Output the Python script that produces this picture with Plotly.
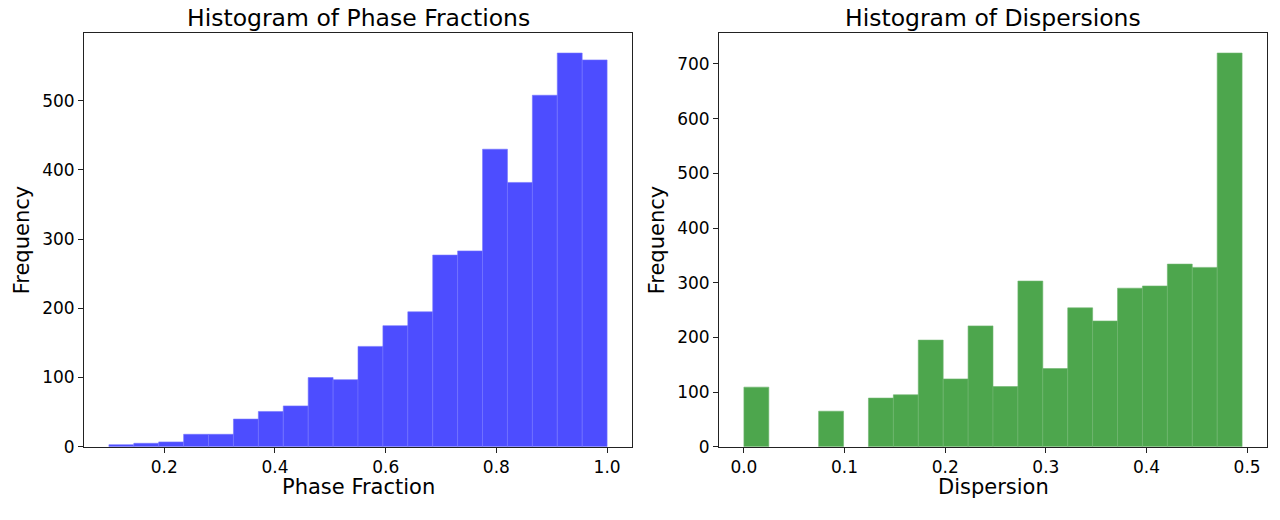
import plotly.graph_objects as go

# Phase fraction histogram (20 bins between 0.1 and 1.0)
phase_min, phase_max = 0.1, 1.0
phase_counts = [3, 5, 7, 18, 18, 40, 51, 59, 100, 97, 145, 175, 195, 277, 283, 430, 382, 508, 569, 559]

# Dispersion histogram (20 bins between 0.0 and 0.495)
disp_min, disp_max = 0.0, 0.495
disp_counts = [109, 0, 0, 65, 0, 89, 95, 195, 124, 221, 110, 303, 143, 254, 230, 290, 294, 334, 328, 720]

phase_ticks = [0.2, 0.4, 0.6, 0.8, 1.0]
phase_ticklabels = ["0.2", "0.4", "0.6", "0.8", "1.0"]
disp_ticks = [0.0, 0.1, 0.2, 0.3, 0.4, 0.5]
disp_ticklabels = ["0.0", "0.1", "0.2", "0.3", "0.4", "0.5"]
phase_yticks = [0, 100, 200, 300, 400, 500]
disp_yticks = [0, 100, 200, 300, 400, 500, 600, 700]


def centers(lo, hi, n):
    w = (hi - lo) / n
    return [lo + w * (i + 0.5) for i in range(n)], w


px, pw = centers(phase_min, phase_max, len(phase_counts))
dx, dw = centers(disp_min, disp_max, len(disp_counts))

FONT = "DejaVu Sans"
W, H = 1280, 520

fig = go.Figure()
fig.add_trace(go.Bar(x=px, y=phase_counts, width=pw,
                     marker=dict(color="rgb(77,77,255)",
                                 line=dict(width=[0.6 if c > 0 else 0 for c in phase_counts], color="rgb(115,115,255)")),
                     xaxis="x", yaxis="y", showlegend=False, hoverinfo="skip"))
fig.add_trace(go.Bar(x=dx, y=disp_counts, width=dw,
                     marker=dict(color="rgb(77,166,77)",
                                 line=dict(width=[0.6 if c > 0 else 0 for c in disp_counts], color="rgb(110,182,110)")),
                     xaxis="x2", yaxis="y2", showlegend=False, hoverinfo="skip"))

ydom = [(H - 455.5) / H, (H - 34) / H]
d1 = [84 / W, 632 / W]
d2 = [719 / W, 1267 / W]

common = dict(showline=True, linecolor="#222", linewidth=1, mirror=True, ticks="outside", ticklen=5, tickwidth=1,
              tickcolor="#222", showgrid=False, zeroline=False, tickfont=dict(family=FONT, size=17, color="black"))

pr = phase_max - phase_min
dr = disp_max - disp_min
fig.update_layout(
    width=W, height=H, margin=dict(l=0, r=0, t=0, b=0), plot_bgcolor="white", paper_bgcolor="white", bargap=0,
    xaxis=dict(domain=d1, anchor="y", range=[phase_min - 0.05 * pr, phase_max + 0.05 * pr], tickvals=phase_ticks, ticktext=phase_ticklabels, **common),
    yaxis=dict(domain=ydom, anchor="x", range=[0, max(phase_counts) * 1.05], tickvals=phase_yticks, **common),
    xaxis2=dict(domain=d2, anchor="y2", range=[disp_min - 0.05 * dr, disp_max + 0.05 * dr], tickvals=disp_ticks, ticktext=disp_ticklabels, **common),
    yaxis2=dict(domain=ydom, anchor="x2", range=[0, max(disp_counts) * 1.05], tickvals=disp_yticks, **common),
)

ann = []
for dom, title, xlabel in [(d1, "Histogram of Phase Fractions", "Phase Fraction"), (d2, "Histogram of Dispersions", "Dispersion")]:
    cx = (dom[0] + dom[1]) / 2
    ann.append(dict(text=title, x=cx, y=(H - 18) / H, xref="paper", yref="paper", showarrow=False, xanchor="center", yanchor="middle", font=dict(family=FONT, size=23.5, color="black")))
    ann.append(dict(text=xlabel, x=cx, y=(H - 497) / H, xref="paper", yref="paper", showarrow=False, xanchor="center", yanchor="middle", font=dict(family=FONT, size=21, color="black")))
for xpx in [22, 657]:
    ann.append(dict(text="Frequency", x=xpx / W, y=(H - 245) / H, xref="paper", yref="paper", showarrow=False, textangle=-90, xanchor="center", yanchor="middle", font=dict(family=FONT, size=21, color="black")))
fig.update_layout(annotations=ann)

post = "var s=document.createElement('style');s.textContent='html,body{margin:0;padding:0;overflow:hidden;}';document.head.appendChild(s);"
fig.write_html("out.html", config={"displayModeBar": False, "staticPlot": True}, post_script=post)
